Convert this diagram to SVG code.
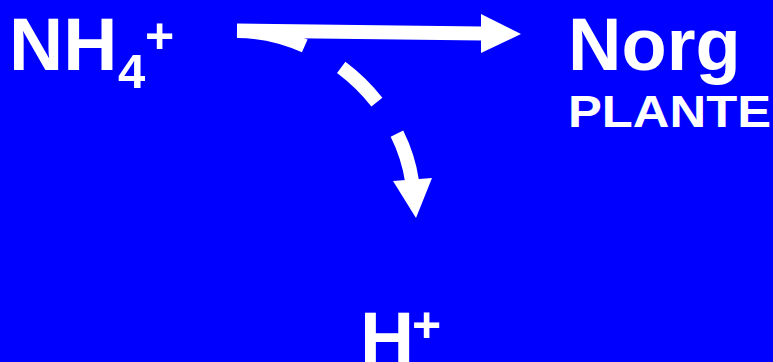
<svg xmlns="http://www.w3.org/2000/svg" width="773" height="362" viewBox="0 0 773 362">
<style>
text{font-family:"Liberation Sans",Arial,sans-serif;font-weight:bold;fill:#fff}
.ln{fill:none;stroke:#fff;stroke-width:14}
.hd{fill:#fff}
</style>
<rect width="773" height="362" fill="#0000ff"/>
<g id="connectors">
<path class="ln" d="M237,30.5 L482,33.5"/>
<polygon class="hd" points="481,14 521,34 481,53"/>
<path class="ln" d="M237,31 C321,31 400,100 412,181" pathLength="100" stroke-dasharray="28 17 20 15 40"/>
<polygon class="hd" points="393,181 432,178 416,218"/>
</g>
<g id="nh4">
<text x="9" y="70" font-size="75">NH</text>
<text x="118" y="88" font-size="49">4</text>
<text x="145" y="53" font-size="50">+</text>
</g>
<g id="norg">
<text x="568" y="70" font-size="74">Norg</text>
<text x="568" y="127" font-size="45" textLength="203" lengthAdjust="spacingAndGlyphs">PLANTE</text>
</g>
<g id="hplus">
<text x="360" y="364" font-size="75">H</text>
<text x="412" y="342" font-size="50">+</text>
</g>
</svg>
